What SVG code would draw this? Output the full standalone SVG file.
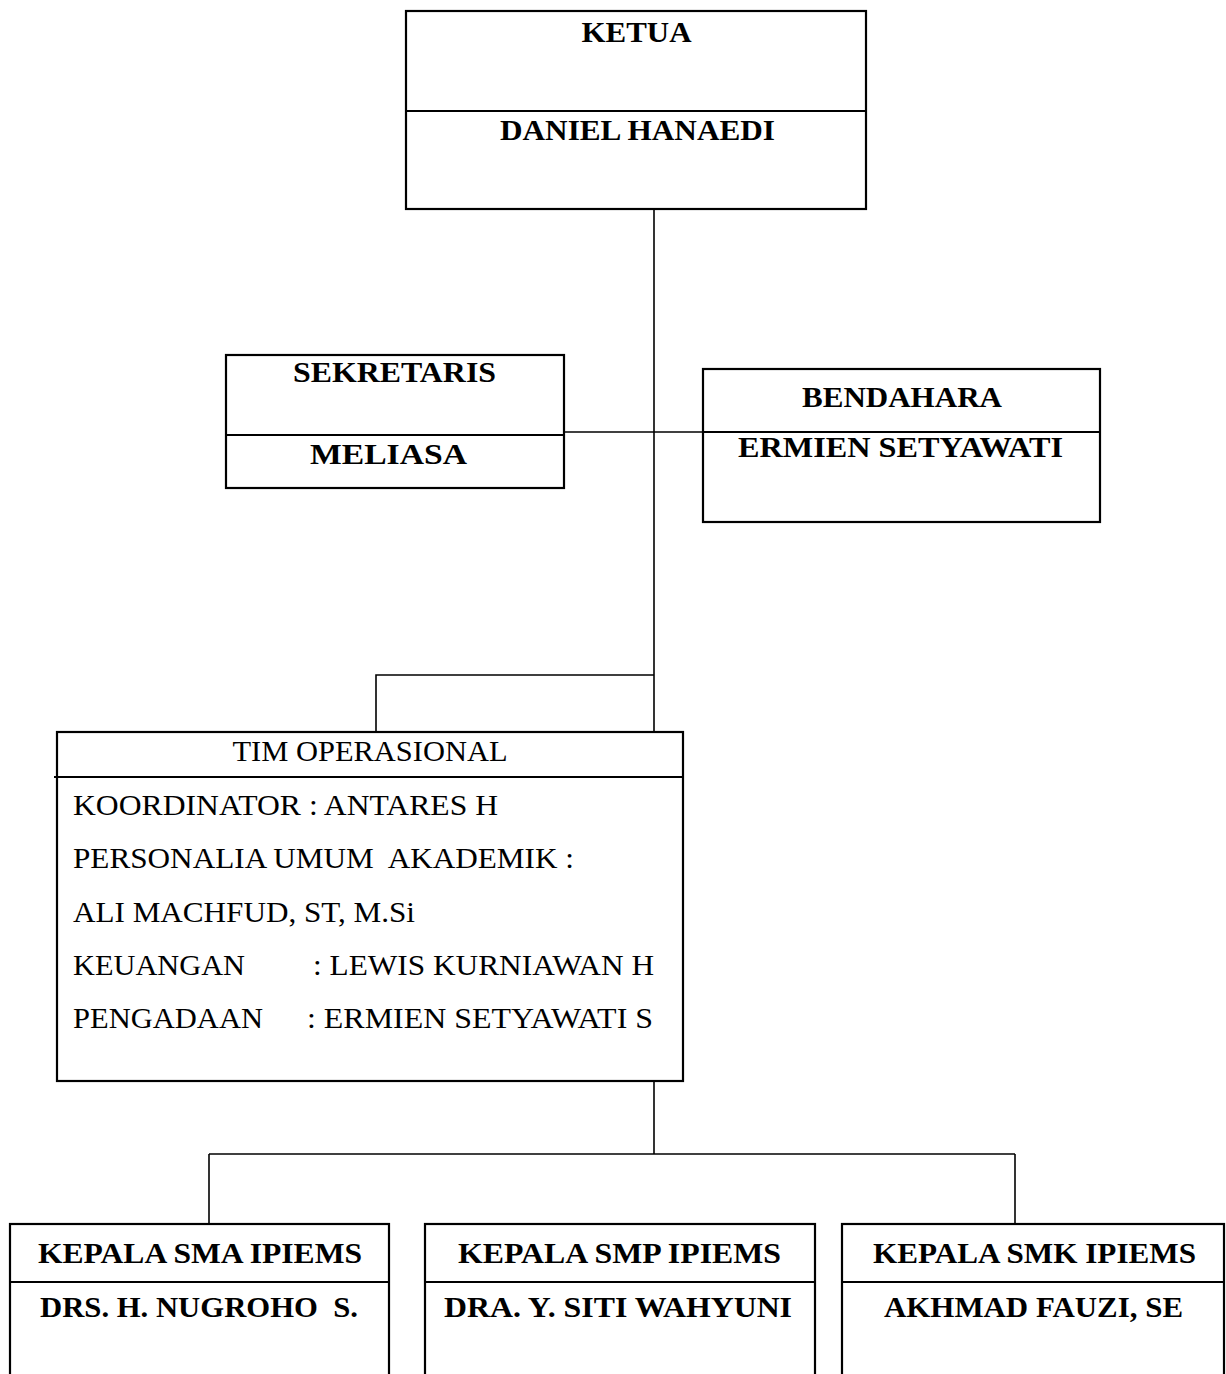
<svg xmlns="http://www.w3.org/2000/svg" width="1226" height="1374" viewBox="0 0 1226 1374">
<style>
.box{fill:#fff;stroke:#000;stroke-width:2.2}
.div{stroke:#000;stroke-width:2.2;fill:none}
.con{stroke:#000;stroke-width:1.6;fill:none}
.b{font-family:"Liberation Serif","Times New Roman",serif;font-weight:bold;font-size:30px;fill:#000;text-anchor:middle}
.r{font-family:"Liberation Serif","Times New Roman",serif;font-size:30px;fill:#000}
</style>
<rect width="1226" height="1374" fill="#fff"/>
<g id="connectors">
<line class="con" x1="654" y1="209" x2="654" y2="736"/>
<line class="con" x1="564" y1="432" x2="703" y2="432"/>
<polyline class="con" points="654,675 376,675 376,736"/>
<line class="con" x1="654" y1="1081" x2="654" y2="1154"/>
<line class="con" x1="209" y1="1154" x2="1015" y2="1154"/>
<line class="con" x1="209" y1="1154" x2="209" y2="1224"/>
<line class="con" x1="1015" y1="1154" x2="1015" y2="1224"/>
</g>
<g id="ketua">
<rect class="box" x="406" y="11" width="460" height="198"/>
<line class="div" x1="406" y1="111" x2="866" y2="111"/>
<text class="b" x="636.5" y="42" textLength="110" lengthAdjust="spacingAndGlyphs">KETUA</text>
<text class="b" x="637.5" y="140" textLength="275" lengthAdjust="spacingAndGlyphs">DANIEL HANAEDI</text>
</g>
<g id="sekretaris">
<rect class="box" x="226" y="355" width="338" height="133"/>
<line class="div" x1="226" y1="435" x2="564" y2="435"/>
<text class="b" x="394.5" y="382" textLength="203" lengthAdjust="spacingAndGlyphs">SEKRETARIS</text>
<text class="b" x="388.5" y="464" textLength="157" lengthAdjust="spacingAndGlyphs">MELIASA</text>
</g>
<g id="bendahara">
<rect class="box" x="703" y="369" width="397" height="153"/>
<line class="div" x1="703" y1="432" x2="1100" y2="432"/>
<text class="b" x="902" y="407" textLength="200" lengthAdjust="spacingAndGlyphs">BENDAHARA</text>
<text class="b" x="900.5" y="457" textLength="325" lengthAdjust="spacingAndGlyphs">ERMIEN SETYAWATI</text>
</g>
<g id="tim-operasional">
<rect class="box" x="57" y="732" width="626" height="349"/>
<line class="div" x1="54" y1="777" x2="683" y2="777"/>
<text class="r" x="370" y="761" text-anchor="middle" textLength="275" lengthAdjust="spacingAndGlyphs">TIM OPERASIONAL</text>
<text class="r" x="73" y="815" textLength="425" lengthAdjust="spacingAndGlyphs">KOORDINATOR : ANTARES H</text>
<text class="r" x="73" y="868" textLength="501" lengthAdjust="spacingAndGlyphs" xml:space="preserve">PERSONALIA UMUM  AKADEMIK :</text>
<text class="r" x="73" y="922" textLength="342" lengthAdjust="spacingAndGlyphs">ALI MACHFUD, ST, M.Si</text>
<text class="r" x="73" y="975" textLength="172" lengthAdjust="spacingAndGlyphs">KEUANGAN</text>
<text class="r" x="313" y="975" textLength="341" lengthAdjust="spacingAndGlyphs">: LEWIS KURNIAWAN H</text>
<text class="r" x="73" y="1028" textLength="190" lengthAdjust="spacingAndGlyphs">PENGADAAN</text>
<text class="r" x="307" y="1028" textLength="346" lengthAdjust="spacingAndGlyphs">: ERMIEN SETYAWATI S</text>
</g>
<g id="kepala-sma">
<rect class="box" x="10" y="1224" width="379" height="170"/>
<line class="div" x1="10" y1="1282" x2="389" y2="1282"/>
<text class="b" x="200" y="1263" textLength="324" lengthAdjust="spacingAndGlyphs">KEPALA SMA IPIEMS</text>
<text class="b" x="199" y="1317" textLength="318" lengthAdjust="spacingAndGlyphs" xml:space="preserve">DRS. H. NUGROHO  S.</text>
</g>
<g id="kepala-smp">
<rect class="box" x="425" y="1224" width="390" height="170"/>
<line class="div" x1="425" y1="1282" x2="815" y2="1282"/>
<text class="b" x="619.5" y="1263" textLength="323" lengthAdjust="spacingAndGlyphs">KEPALA SMP IPIEMS</text>
<text class="b" x="618" y="1317" textLength="348" lengthAdjust="spacingAndGlyphs">DRA. Y. SITI WAHYUNI</text>
</g>
<g id="kepala-smk">
<rect class="box" x="842" y="1224" width="382" height="170"/>
<line class="div" x1="842" y1="1282" x2="1224" y2="1282"/>
<text class="b" x="1034.5" y="1263" textLength="323" lengthAdjust="spacingAndGlyphs">KEPALA SMK IPIEMS</text>
<text class="b" x="1033.5" y="1317" textLength="299" lengthAdjust="spacingAndGlyphs">AKHMAD FAUZI, SE</text>
</g>
</svg>
